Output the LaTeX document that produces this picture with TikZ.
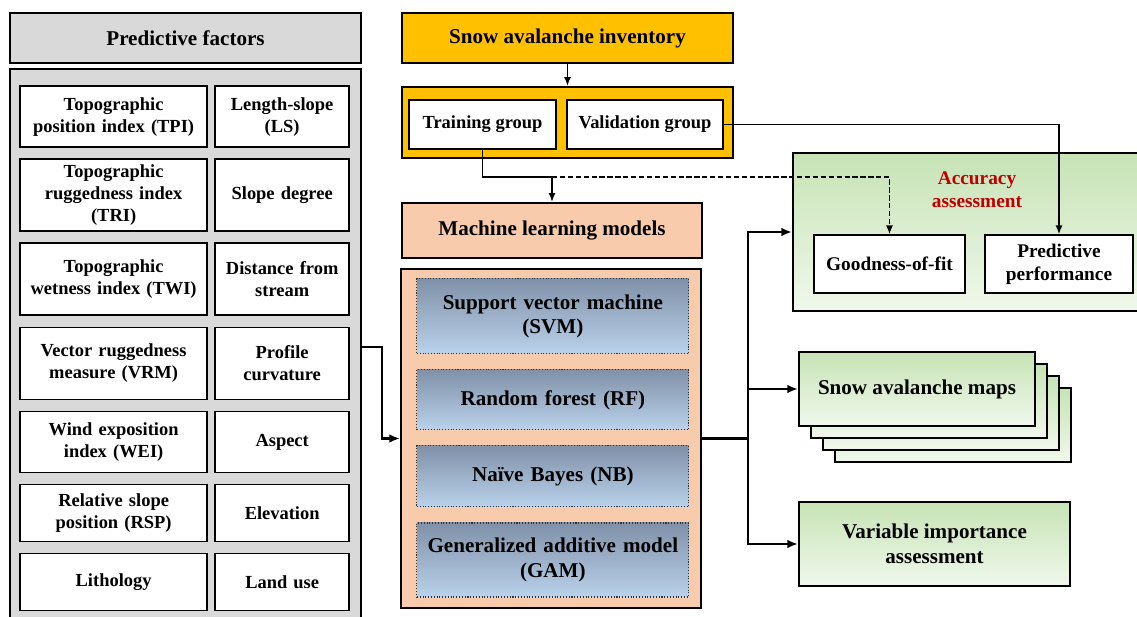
\documentclass[tikz,border=0pt]{standalone}
\usepackage{fontspec}
\setmainfont{Liberation Serif}
\usetikzlibrary{matrix,arrows.meta}
\definecolor{boxgray}{HTML}{D9D9D9}
\definecolor{invyellow}{HTML}{FFC000}
\definecolor{mlpeach}{HTML}{F8CBAD}
\definecolor{mltop}{RGB}{128,145,168}
\definecolor{mlbottom}{RGB}{186,210,235}
\definecolor{grtop}{RGB}{199,227,181}
\definecolor{grbottom}{RGB}{240,248,236}
\definecolor{accred}{HTML}{C00000}
\tikzset{
factors/.style={
  matrix of nodes,
  row sep=0.21cm,
  column sep=0.13cm,
  inner sep=0pt,
  nodes={draw,line width=0.9pt,fill=white,align=center,anchor=center,
    inner xsep=0pt,inner ysep=1pt,minimum height=1.14cm,
    font=\fontsize{10.5}{12.5}\selectfont\bfseries},
  column 1/.style={nodes={text width=3.74cm}},
  column 2/.style={nodes={text width=2.68cm}},
  row 1/.style={nodes={minimum height=1.22cm}},
  row 2/.style={nodes={minimum height=1.44cm}},
  row 3/.style={nodes={minimum height=1.44cm}},
  row 4/.style={nodes={minimum height=1.44cm}},
  row 5/.style={nodes={minimum height=1.22cm}},
},
models/.style={
  matrix of nodes,
  row sep=0.3cm,
  inner sep=0pt,
  nodes={draw=black!80,densely dotted,line width=0.6pt,top color=mltop,
    bottom color=mlbottom,text width=5.44cm,inner xsep=0pt,align=center,
    anchor=center,font=\fontsize{12}{14}\selectfont\bfseries},
  row 1/.style={nodes={minimum height=1.5cm}},
  row 2/.style={nodes={minimum height=1.2cm}},
  row 3/.style={nodes={minimum height=1.22cm}},
  row 4/.style={nodes={minimum height=1.48cm}},
},
% box from its corners, in pixels of the layout
spans/.style n args={4}{
  minimum width={(#3-#1)*0.02cm},
  minimum height={(#4-#2)*0.02cm},
  at={({(#1+#3)/2},{(#2+#4)/2})}},
box/.style={draw,line width=1.3pt,inner sep=0pt,align=center,
  font=\fontsize{12}{14}\selectfont\bfseries},
subbox/.style={draw,line width=0.9pt,fill=white,inner sep=0pt,align=center,
  font=\fontsize{10.5}{12.5}\selectfont\bfseries},
greenbox/.style={box,top color=grtop,bottom color=grbottom},
link/.style={line width=0.8pt,-{Latex[length=5pt,width=4pt]}},
trunk/.style={line width=1.2pt,-{Latex[length=6pt,width=5pt]}},
}

\begin{document}
\begin{tikzpicture}[x=0.02cm,y=-0.02cm]
\useasboundingbox (0,0) rectangle (1137,617);
\clip (0,0) rectangle (1137,617);
% predictive factors
\node[box,fill=boxgray,spans={10}{13}{361}{63}] (facttl) {Predictive factors};
\node[box,fill=boxgray,spans={10}{69}{361}{625}] (facbox) {};
\matrix (fac) [factors,anchor=north west] at (19,85)
{
{Topographic\\position index (TPI)} & {Length-slope\\(LS)} \\
{Topographic\\ruggedness index\\(TRI)} & Slope degree \\
{Topographic\\wetness index (TWI)} & {Distance from\\stream} \\
{Vector ruggedness\\measure (VRM)} & {Profile\\curvature} \\
{Wind exposition\\index (WEI)} & Aspect \\
{Relative slope\\position (RSP)} & Elevation \\
Lithology & Land use \\
};
% inventory and models
\node[box,fill=invyellow,spans={402}{13}{733}{63}] (inv) {Snow avalanche inventory};
\node[box,fill=invyellow,spans={402}{87}{733}{158}] (grp) {};
\node[subbox,spans={409}{100}{556}{149}] (train) {Training group};
\node[subbox,spans={567}{100}{723}{149}] (valid) {Validation group};
\node[box,fill=mlpeach,spans={402}{203}{702}{258}] (mlm) {Machine learning models};
\node[box,fill=mlpeach,spans={401}{269}{701}{608}] (mlbox) {};
\matrix (alg) [models,anchor=north west] at (416,278)
{
{Support vector machine\\(SVM)} \\
Random forest (RF) \\
Naïve Bayes (NB) \\
{Generalized additive model\\(GAM)} \\
};
% outputs
\node[greenbox,spans={793}{153}{1145}{311}] (acc) {};
\node[font=\fontsize{11}{13}\selectfont\bfseries,text=accred,align=center]
  (acctl) at (977,190) {Accuracy\\assessment};
\node[subbox,font=\fontsize{11}{13}\selectfont\bfseries,spans={814}{235}{965}{293}]
  (gof) {Goodness-of-fit};
\node[subbox,font=\fontsize{11}{13}\selectfont\bfseries,spans={985}{235}{1133}{293}]
  (pred) {Predictive\\performance};
\foreach \k in {3,2,1}
  \path[greenbox] ({799+12*\k},{352+12*\k}) rectangle ++(236,74);
\node[greenbox,spans={799}{352}{1035}{426}] (maps) {Snow avalanche maps};
\node[greenbox,spans={799}{502}{1070}{586}] (via) {Variable importance\\assessment};
% connectors
\coordinate (split) at (552,177);
\draw[link] (inv) -- (grp);
\draw[line width=0.8pt] (train) |- (split);
\draw[link] (split) -- (mlm);
\draw[link,dash pattern=on 3pt off 1.5pt] (split) -| (gof);
\draw[link] (valid) -| (pred);
\draw[trunk] (facbox.east) -- ++(20,0) |- (mlbox);
\foreach \t in {acc,maps,via}
  \draw[trunk] (mlbox.east) -- ++(46,0) |- (\t);
\end{tikzpicture}
\end{document}
